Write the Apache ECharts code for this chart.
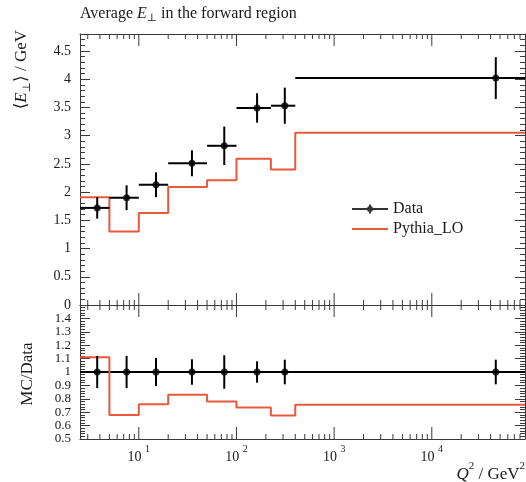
<!DOCTYPE html>
<html>
<head>
<meta charset="utf-8">
<script src="https://cdn.jsdelivr.net/npm/echarts@6/dist/echarts.min.js"></script>
<style>
  html, body { margin: 0; padding: 0; background: #fff; }
  #chart { width: 526px; height: 482px; }
</style>
</head>
<body>
<div id="chart"></div>
<script>
// Q^2 binning (GeV^2) and bin centres
const binEdges = [2.5, 5, 10, 20, 50, 100, 225, 400, 90000];
const q2Centres = [3.75, 7.5, 15, 35, 75, 162.5, 312.5, 45200];

// Average E_perp in the forward region (GeV)
const dataEt = [1.72, 1.90, 2.13, 2.51, 2.82, 3.49, 3.53, 4.02];
const dataErr = [0.19, 0.22, 0.22, 0.23, 0.34, 0.26, 0.32, 0.37];
const pythiaEt = [1.91, 1.30, 1.63, 2.09, 2.21, 2.59, 2.40, 3.05];

// MC / Data ratio panel
const ratioPythia = [1.11, 0.68, 0.76, 0.83, 0.78, 0.735, 0.675, 0.755];
const ratioErr = [0.12, 0.12, 0.105, 0.095, 0.125, 0.08, 0.092, 0.092];

// axis ranges
const xRange = [2.5, 90000];
const mainRange = [0, 4.8];
const ratioRange = [0.5, 1.5];

const FONT = '"Liberation Serif", "DejaVu Serif", serif';
const INK = '#1a1a1a';
const FRAME = '#3a3a3a';
const MC_COLOR = '#e8583c';

// log-axis tick marks: 10^n majors and 2..9 x 10^n minors
const xTicks = [];
for (let d = 1; d <= 10000; d *= 10) {
  for (let k = 1; k <= 9; k++) {
    const v = k * d;
    if (v > xRange[0] && v < xRange[1]) xTicks.push([v, k === 1 ? 1 : 0]);
  }
}

function stepData(edges, vals) {
  const out = vals.map((v, i) => [edges[i], v]);
  out.push([edges[edges.length - 1], vals[vals.length - 1]]);
  return out;
}

function tickRenderer(yr) {
  return function (params, api) {
    const v = api.value(0);
    const major = api.value(1) === 1;
    const len = major ? 12 : 5;
    const b = api.coord([v, yr[0]]);
    const t = api.coord([v, yr[1]]);
    const st = { stroke: FRAME, lineWidth: 1 };
    return {
      type: 'group',
      children: [
        { type: 'line', shape: { x1: b[0], y1: b[1], x2: b[0], y2: b[1] - len }, style: st },
        { type: 'line', shape: { x1: t[0], y1: t[1], x2: t[0], y2: t[1] + len }, style: st }
      ]
    };
  };
}

function errRenderer(withHorizontal) {
  return function (params, api) {
    const x = api.value(0), y = api.value(1), e = api.value(2);
    const a = api.coord([x, y - e]);
    const b = api.coord([x, y + e]);
    const children = [
      { type: 'line', shape: { x1: a[0], y1: a[1], x2: b[0], y2: b[1] }, style: { stroke: '#000', lineWidth: 2 } }
    ];
    if (withHorizontal) {
      const l = api.coord([api.value(3), y]);
      const r = api.coord([api.value(4), y]);
      children.push({ type: 'line', shape: { x1: l[0], y1: l[1], x2: r[0], y2: r[1] }, style: { stroke: '#000', lineWidth: 2 } });
    }
    return { type: 'group', children: children };
  };
}

const frameX = (grid, pos) => ({
  gridIndex: grid, type: 'log', logBase: 10, min: xRange[0], max: xRange[1], position: pos,
  axisLine: { show: true, onZero: false, lineStyle: { color: FRAME, width: 1 } },
  axisTick: { show: false }, axisLabel: { show: false }, splitLine: { show: false }
});

const yAxisDef = (grid, pos, range, interval, showLabels, fontSize, lineHeight) => ({
  gridIndex: grid, type: 'value', min: range[0], max: range[1], interval: interval, position: pos,
  axisLine: { show: true, lineStyle: { color: FRAME, width: 1 } },
  axisTick: { show: true, inside: true, length: 10, lineStyle: { color: FRAME } },
  minorTick: { show: true, splitNumber: 5, length: 5, lineStyle: { color: FRAME } },
  splitLine: { show: false },
  axisLabel: {
    show: showLabels, margin: 9, color: INK, fontFamily: FONT, fontSize: fontSize, lineHeight: lineHeight,
    showMinLabel: true, showMaxLabel: false
  }
});

const bottomX = frameX(1, 'bottom');
bottomX.axisLabel = {
  show: true, margin: 5, color: INK, fontFamily: FONT, fontSize: 14,
  showMinLabel: false, showMaxLabel: false,
  formatter: function (v) {
    const e = Math.round(Math.log10(v));
    if (Math.abs(v - Math.pow(10, e)) > 1e-6 * v) return '';
    return '{b|10 }{s|' + e + '}';
  },
  rich: {
    b: { fontFamily: FONT, fontSize: 14, color: INK, lineHeight: 20, verticalAlign: 'bottom' },
    s: { fontFamily: FONT, fontSize: 10, color: INK, lineHeight: 12, verticalAlign: 'top' }
  }
};

const chart = echarts.init(document.getElementById('chart'), null, { renderer: 'canvas' });

chart.setOption({
  backgroundColor: '#fff',
  animation: false,
  title: {
    left: 80, top: 4, padding: 0,
    text: '{t|Average }{i|E}{s|⊥}{t| in the forward region}',
    textStyle: {
      fontWeight: 'normal',
      rich: {
        t: { fontFamily: FONT, fontSize: 16, fontWeight: 'normal', color: INK, lineHeight: 20 },
        i: { fontFamily: FONT, fontSize: 16, fontWeight: 'normal', color: INK, fontStyle: 'italic', lineHeight: 20 },
        s: { fontFamily: FONT, fontSize: 11, fontWeight: 'normal', color: INK, lineHeight: 11, verticalAlign: 'bottom' }
      }
    }
  },
  legend: {
    left: 347, top: 196, orient: 'vertical', itemWidth: 36, itemHeight: 14, itemGap: 4,
    textStyle: { fontFamily: FONT, fontSize: 16, color: INK },
    data: [
      { name: 'Data', icon: 'path://M0,3.5H36V5.5H0Z M17,0H19V9H17Z M21,4.5A3,3 0 1 1 15,4.5A3,3 0 1 1 21,4.5Z', itemStyle: { color: '#000' } },
      { name: 'Pythia_LO', icon: 'path://M0,0H36V2H0Z', itemStyle: { color: MC_COLOR } }
    ]
  },
  grid: [
    { left: 80, top: 34, width: 445, height: 271 },
    { left: 80, top: 305, width: 445, height: 134 }
  ],
  xAxis: [frameX(0, 'bottom'), frameX(0, 'top'), bottomX, frameX(1, 'top')],
  yAxis: [
    yAxisDef(0, 'left', mainRange, 0.5, true, 14, 16),
    yAxisDef(0, 'right', mainRange, 0.5, false, 14, 16),
    yAxisDef(1, 'left', ratioRange, 0.1, true, 13, 11),
    yAxisDef(1, 'right', ratioRange, 0.1, false, 13, 11)
  ],
  graphic: [
    {
      type: 'text', x: 22, y: 30, rotation: Math.PI / 2,
      style: {
        text: '{a|⟨}{i|E}{s|⊥}{a|⟩ / GeV}', align: 'right', verticalAlign: 'middle',
        rich: {
          a: { fontFamily: FONT, fontSize: 17, fill: INK, lineHeight: 22 },
          i: { fontFamily: FONT, fontSize: 17, fill: INK, fontStyle: 'italic', lineHeight: 22 },
          s: { fontFamily: FONT, fontSize: 11, fill: INK, lineHeight: 11, verticalAlign: 'bottom' }
        }
      }
    },
    {
      type: 'text', x: 28, y: 374, rotation: Math.PI / 2,
      style: { text: 'MC/Data', font: '17px ' + FONT, fill: INK, align: 'center', verticalAlign: 'middle' }
    },
    {
      type: 'text', x: 525, y: 472,
      style: {
        text: '{i|Q}{p|2}{n| / GeV}{p|2}', align: 'right', verticalAlign: 'middle',
        rich: {
          i: { fontFamily: FONT, fontSize: 17, fill: INK, fontStyle: 'italic', lineHeight: 22, verticalAlign: 'bottom' },
          n: { fontFamily: FONT, fontSize: 17, fill: INK, lineHeight: 22, verticalAlign: 'bottom' },
          p: { fontFamily: FONT, fontSize: 11, fill: INK, lineHeight: 12, verticalAlign: 'top' }
        }
      }
    }
  ],
  series: [
    // upper panel
    {
      name: 'Pythia_LO', type: 'line', xAxisIndex: 0, yAxisIndex: 0, step: 'end',
      data: stepData(binEdges, pythiaEt), symbol: 'none',
      lineStyle: { color: MC_COLOR, width: 2 }, itemStyle: { color: MC_COLOR }, z: 3
    },
    {
      type: 'custom', xAxisIndex: 0, yAxisIndex: 0, renderItem: errRenderer(true),
      data: q2Centres.map((c, i) => [c, dataEt[i], dataErr[i], binEdges[i], binEdges[i + 1]]), z: 4
    },
    {
      name: 'Data', type: 'scatter', xAxisIndex: 0, yAxisIndex: 0, symbol: 'circle', symbolSize: 7,
      data: q2Centres.map((c, i) => [c, dataEt[i]]), itemStyle: { color: '#000' }, z: 5
    },
    { type: 'custom', xAxisIndex: 0, yAxisIndex: 0, renderItem: tickRenderer(mainRange), data: xTicks, silent: true, z: 6 },

    // ratio panel
    {
      type: 'line', xAxisIndex: 2, yAxisIndex: 2, data: [[xRange[0], 1], [xRange[1], 1]], symbol: 'none',
      lineStyle: { color: '#000', width: 2 }, z: 3
    },
    {
      type: 'line', xAxisIndex: 2, yAxisIndex: 2, step: 'end', data: stepData(binEdges, ratioPythia), symbol: 'none',
      lineStyle: { color: MC_COLOR, width: 2 }, z: 3
    },
    {
      type: 'custom', xAxisIndex: 2, yAxisIndex: 2, renderItem: errRenderer(false),
      data: q2Centres.map((c, i) => [c, 1, ratioErr[i]]), z: 4
    },
    {
      type: 'scatter', xAxisIndex: 2, yAxisIndex: 2, symbol: 'circle', symbolSize: 7,
      data: q2Centres.map(c => [c, 1]), itemStyle: { color: '#000' }, z: 5
    },
    { type: 'custom', xAxisIndex: 2, yAxisIndex: 2, renderItem: tickRenderer(ratioRange), data: xTicks, silent: true, z: 6 }
  ]
});
</script>
</body>
</html>
